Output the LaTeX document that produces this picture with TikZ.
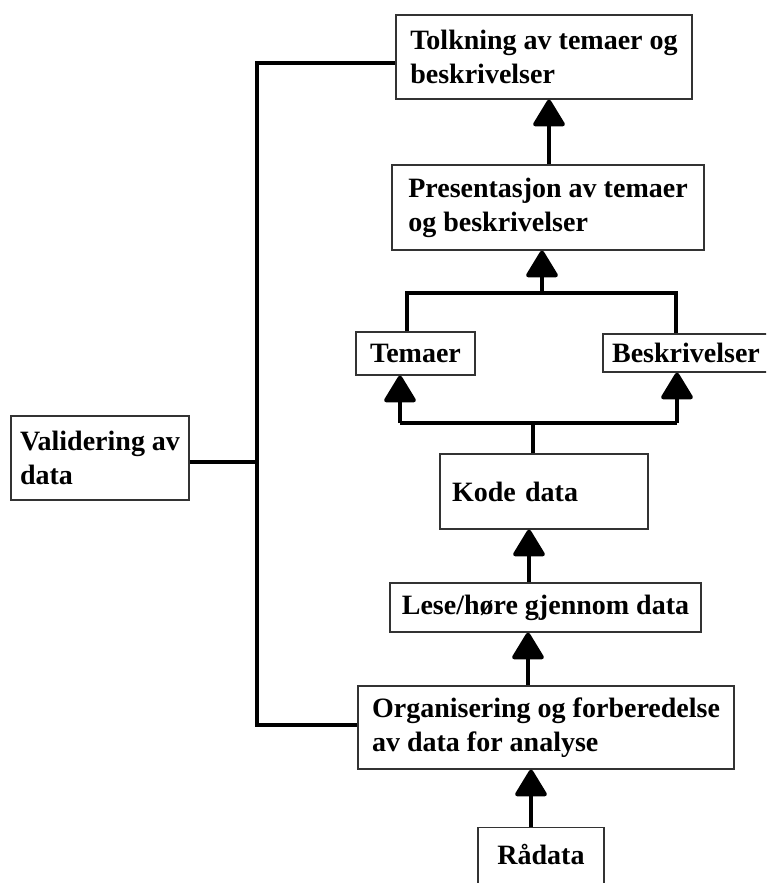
\documentclass[tikz,border=0pt]{standalone}
\usepackage{fontspec}
\setmainfont{Liberation Serif}
\usetikzlibrary{arrows.meta}
\tikzset{
  box/.style={draw=black!80, line width=1.3pt, fill=white, inner xsep=0pt, inner ysep=0pt,
    align=left, font=\fontsize{28}{34}\selectfont\bfseries},
  link/.style={line width=4.5pt},
  arr/.style={line width=4.5pt, -{Triangle[width=34pt,length=29pt,round]}}
}
\begin{document}
\begin{tikzpicture}[x=1pt,y=-1pt]
\useasboundingbox (0,0) rectangle (766,883);
\clip (0,0) rectangle (766,883);
\fill[white] (0,0) rectangle (766,883);

\node[box, minimum width=296pt, minimum height=84pt] (tolk) at (544,57) {Tolkning av temaer og\\beskrivelser};
\node[box, minimum width=312pt, minimum height=85pt] (pres) at (548,207.5) {Presentasjon av temaer\\og beskrivelser};
\node[box, minimum width=119pt, minimum height=43pt] (tem) at (415.5,353.5) {Temaer};
\node[box, minimum width=166pt, minimum height=38pt] (besk) at (686,353) {Beskrivelser};
\node[box, minimum width=208pt, minimum height=75pt, text width=184pt, inner xsep=12pt] (kode) at (544,491.5) {Kode data};
\node[box, minimum width=311pt, minimum height=49pt] (lese) at (545.5,607.5) {Lese/høre gjennom data};
\node[box, minimum width=376pt, minimum height=83pt] (org) at (546,727.5) {Organisering og forberedelse\\av data for analyse};
\node[box, minimum width=126pt, text height=37pt, text depth=32pt, anchor=north] (rad) at (541,827) {Rådata};
\node[box, minimum width=178pt, minimum height=84pt] (val) at (100,458) {Validering av\\data};

% vertical chain
\draw[arr] ([xshift=1pt]pres.north) -- ([xshift=1pt]pres.north |- tolk.south);

\coordinate (ubl) at (407,293);
\coordinate (ubr) at (676,293);
\coordinate (ubm) at (542,293);
\draw[link] (ubl |- tem.north) -- (ubl) -- (ubr) -- (ubr |- besk.north);
\draw[arr] (ubm) -- (ubm |- pres.south);

\coordinate (lbl) at (400,423);
\coordinate (lbr) at (677,423);
\coordinate (lbm) at (533,423);
\draw[link] (lbl) -- (lbr);
\draw[arr] (lbl) -- (lbl |- tem.south);
\draw[arr] (lbr) -- (lbr |- besk.south);
\draw[link] (lbm |- kode.north) -- (lbm);

\draw[arr] ([xshift=-16.5pt]lese.north) -- ([xshift=-16.5pt]lese.north |- kode.south);
\draw[arr] ([xshift=-18pt]org.north) -- ([xshift=-18pt]org.north |- lese.south);
\draw[arr] ([xshift=-10pt]rad.north) -- ([xshift=-10pt]rad.north |- org.south);

% validation line
\coordinate (lt) at (257,63);
\coordinate (lb) at (257,725);
\coordinate (lv) at (257,462);
\draw[link] (lt -| tolk.west) -- (lt) -- (lb) -- (lb -| org.west);
\draw[link] (lv -| val.east) -- (lv);
\end{tikzpicture}
\end{document}
